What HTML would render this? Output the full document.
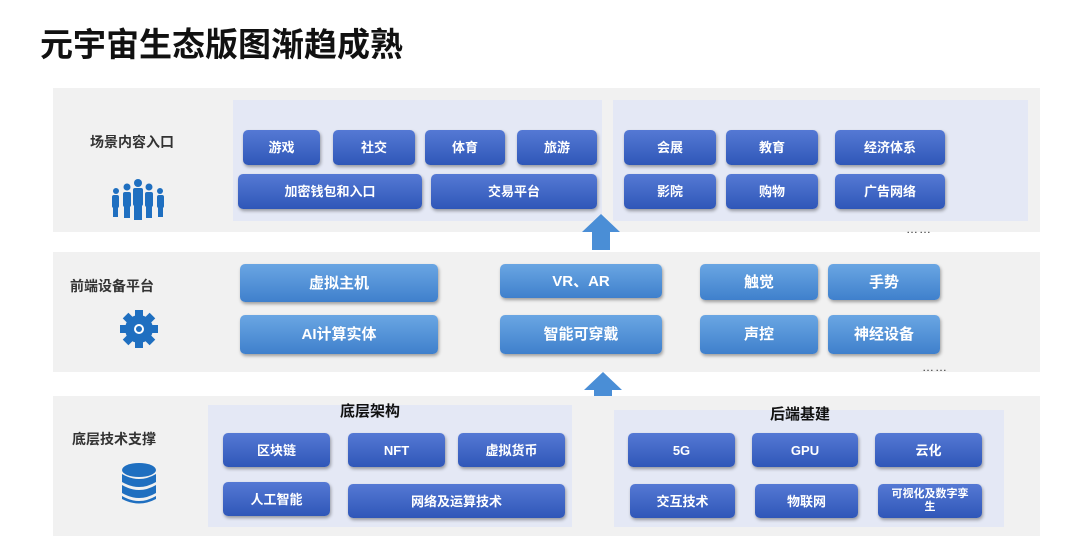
<!DOCTYPE html>
<html><head><meta charset="utf-8"><style>
*{margin:0;padding:0;box-sizing:border-box}
body{width:1080px;height:547px;background:#fff;position:relative;overflow:hidden;font-family:"Liberation Sans","Noto Sans CJK SC",sans-serif}
.a{position:absolute}
.band{background:#f1f1f1}
.pan{background:#e4e8f5}
.b{position:absolute;display:flex;align-items:center;justify-content:center;color:#fff;font-weight:bold;font-size:13px;border-radius:5px;box-shadow:1px 2px 3px rgba(0,0,0,.35);text-align:center;line-height:13px}
.d{background:linear-gradient(#5579d4,#2f57b8)}
.l{background:linear-gradient(#6aa6e3,#3f80cc);font-size:15px}
.lab{position:absolute;font-weight:bold;color:#333;font-size:14px}
.dots{position:absolute;color:#333;font-size:12px;letter-spacing:1px}
</style></head><body>
<div class="a" style="left:40px;top:18px;font-size:33px;font-weight:bold;color:#111">元宇宙生态版图渐趋成熟</div>

<div class="a band" style="left:53px;top:88px;width:987px;height:144px"></div>
<div class="a pan" style="left:233px;top:100px;width:369px;height:121px"></div>
<div class="a pan" style="left:613px;top:100px;width:415px;height:121px"></div>
<div class="lab" style="left:90px;top:132px">场景内容入口</div>
<svg class="a" style="left:108px;top:178px" width="60" height="44" viewBox="0 0 60 44" fill="#1f6fc0">
<circle cx="30" cy="5" r="4"/><rect x="25" y="10" width="10" height="18" rx="2"/><rect x="26" y="26" width="8" height="16"/>
<circle cx="19" cy="9" r="3.5"/><rect x="15" y="14" width="8" height="15" rx="2"/><rect x="16" y="28" width="6" height="12"/>
<circle cx="41" cy="9" r="3.5"/><rect x="37" y="14" width="8" height="15" rx="2"/><rect x="38" y="28" width="6" height="12"/>
<circle cx="8" cy="13" r="3"/><rect x="4" y="17" width="7" height="13" rx="2"/><rect x="5" y="29" width="5" height="10"/>
<circle cx="52" cy="13" r="3"/><rect x="49" y="17" width="7" height="13" rx="2"/><rect x="50" y="29" width="5" height="10"/>
</svg>
<div class="b d" style="left:243px;top:130px;width:77px;height:35px">游戏</div>
<div class="b d" style="left:333px;top:130px;width:82px;height:35px">社交</div>
<div class="b d" style="left:425px;top:130px;width:80px;height:35px">体育</div>
<div class="b d" style="left:517px;top:130px;width:80px;height:35px">旅游</div>
<div class="b d" style="left:238px;top:174px;width:184px;height:35px">加密钱包和入口</div>
<div class="b d" style="left:431px;top:174px;width:166px;height:35px">交易平台</div>
<div class="b d" style="left:624px;top:130px;width:92px;height:35px">会展</div>
<div class="b d" style="left:726px;top:130px;width:92px;height:35px">教育</div>
<div class="b d" style="left:835px;top:130px;width:110px;height:35px">经济体系</div>
<div class="b d" style="left:624px;top:174px;width:92px;height:35px">影院</div>
<div class="b d" style="left:726px;top:174px;width:92px;height:35px">购物</div>
<div class="b d" style="left:835px;top:174px;width:110px;height:35px">广告网络</div>
<div class="dots" style="left:906px;top:222px">……</div>

<div class="a band" style="left:53px;top:252px;width:987px;height:120px"></div>
<div class="lab" style="left:70px;top:276px">前端设备平台</div>
<svg class="a" style="left:119px;top:309px" width="40" height="40" viewBox="-20 -20 40 40"><g fill="#1f6fc0">
<circle r="14"/><g id="t"><rect x="-4" y="-19" width="8" height="8"/></g>
<use href="#t" transform="rotate(45)"/><use href="#t" transform="rotate(90)"/><use href="#t" transform="rotate(135)"/><use href="#t" transform="rotate(180)"/><use href="#t" transform="rotate(225)"/><use href="#t" transform="rotate(270)"/><use href="#t" transform="rotate(315)"/></g>
<circle r="5" fill="#fff"/><circle r="3" fill="#1f6fc0"/></svg>
<div class="b l" style="left:240px;top:264px;width:198px;height:38px">虚拟主机</div>
<div class="b l" style="left:240px;top:315px;width:198px;height:39px">AI计算实体</div>
<div class="b l" style="left:500px;top:264px;width:162px;height:34px">VR、AR</div>
<div class="b l" style="left:500px;top:315px;width:162px;height:39px">智能可穿戴</div>
<div class="b l" style="left:700px;top:264px;width:118px;height:36px">触觉</div>
<div class="b l" style="left:828px;top:264px;width:112px;height:36px">手势</div>
<div class="b l" style="left:700px;top:315px;width:118px;height:39px">声控</div>
<div class="b l" style="left:828px;top:315px;width:112px;height:39px">神经设备</div>
<div class="dots" style="left:922px;top:360px">……</div>

<svg class="a" style="left:580px;top:212px" width="42" height="40"><path d="M21 2 L40 20 L30 20 L30 38 L12 38 L12 20 L2 20Z" fill="#4a8ed6"/></svg>
<svg class="a" style="left:582px;top:370px" width="42" height="38"><path d="M21 2 L40 20 L30 20 L30 36 L12 36 L12 20 L2 20Z" fill="#4a8ed6"/></svg>

<div class="a band" style="left:53px;top:396px;width:987px;height:140px"></div>
<div class="a pan" style="left:208px;top:405px;width:364px;height:122px"></div>
<div class="a pan" style="left:614px;top:410px;width:390px;height:117px"></div>
<div class="lab" style="left:72px;top:429px">底层技术支撑</div>
<svg class="a" style="left:121px;top:462px" width="36" height="44" viewBox="0 0 36 44" fill="#1f6fc0">
<ellipse cx="18" cy="8" rx="17" ry="7"/><path d="M1 12 Q18 22 35 12 L35 20 Q18 30 1 20Z"/><path d="M1 23 Q18 33 35 23 L35 31 Q18 41 1 31Z"/><path d="M1 34 Q18 44 35 34 L35 37 Q18 46 1 37Z"/></svg>
<div class="lab" style="left:340px;top:400px;font-size:15px;color:#111">底层架构</div>
<div class="lab" style="left:770px;top:403px;font-size:15px;color:#111">后端基建</div>
<div class="b d" style="left:223px;top:433px;width:107px;height:34px">区块链</div>
<div class="b d" style="left:348px;top:433px;width:97px;height:34px">NFT</div>
<div class="b d" style="left:458px;top:433px;width:107px;height:34px">虚拟货币</div>
<div class="b d" style="left:223px;top:482px;width:107px;height:34px">人工智能</div>
<div class="b d" style="left:348px;top:484px;width:217px;height:34px">网络及运算技术</div>
<div class="b d" style="left:628px;top:433px;width:107px;height:34px">5G</div>
<div class="b d" style="left:752px;top:433px;width:106px;height:34px">GPU</div>
<div class="b d" style="left:875px;top:433px;width:107px;height:34px">云化</div>
<div class="b d" style="left:630px;top:484px;width:105px;height:34px">交互技术</div>
<div class="b d" style="left:755px;top:484px;width:103px;height:34px">物联网</div>
<div class="b d" style="left:878px;top:484px;width:104px;height:34px;font-size:11px;padding:0 12px">可视化及数字孪生</div>
</body></html>
